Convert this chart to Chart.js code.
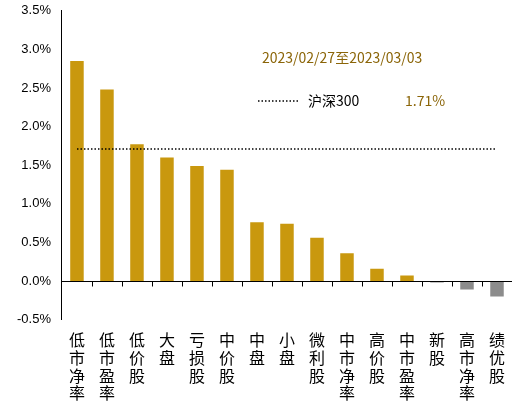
<!DOCTYPE html><html><head><meta charset="utf-8">
<script src="https://cdn.jsdelivr.net/npm/chart.js@4"></script>
<style>body{margin:0;background:#fff}#w{width:513px;height:406px}</style></head><body>
<div id="w"><canvas id="c"></canvas></div>
<script>
const categories=['低市净率','低市盈率','低价股','大盘','亏损股','中价股','中盘','小盘','微利股','中市净率','高价股','中市盈率','新股','高市净率','绩优股'];
const values=[2.85,2.48,1.77,1.60,1.49,1.44,0.76,0.74,0.56,0.36,0.16,0.07,-0.02,-0.11,-0.20];
const hs300=1.71;
const yTicks=[-0.5,0,0.5,1,1.5,2,2.5,3,3.5];
const gold='#C9980E', gray='#8C8C8C';
const F='"Noto Sans CJK SC","Liberation Sans",sans-serif';
const deco={id:'deco',afterDraw(ch){const c=ch.ctx,x=ch.scales.x,y=ch.scales.y,a=ch.chartArea;
 c.save();c.strokeStyle='#000';c.lineWidth=1;const y0=Math.round(y.getPixelForValue(0))+0.5;
 c.beginPath();c.moveTo(a.left,y0);c.lineTo(a.right,y0);
 for(let i=0;i<categories.length-1;i++){const px=Math.round((x.getPixelForValue(i)+x.getPixelForValue(i+1))/2)+0.5;c.moveTo(px,y0);c.lineTo(px,y0+5);}
 c.stroke();
 c.font='14px '+F;c.fillStyle='#8B6508';c.textBaseline='middle';
 c.fillText('2023/02/27至2023/03/03',262,58);
 c.setLineDash([1.5,2]);c.lineWidth=1.5;c.strokeStyle='#000';c.beginPath();c.moveTo(258,101);c.lineTo(300,101);c.stroke();c.setLineDash([]);
 c.fillStyle='#000';c.fillText('沪深300',308,101);
 c.fillStyle='#8B6508';c.fillText('1.71%',405,101);c.restore();}};
new Chart(document.getElementById('c'),{data:{labels:categories.map(s=>s.split('')),datasets:[
 {type:'bar',data:values,backgroundColor:values.map((v,i)=>i>=12?gray:gold),barPercentage:0.45,categoryPercentage:1,order:2},
 {type:'line',data:categories.map(()=>hs300),borderColor:'#000',borderWidth:1.5,borderDash:[1.5,2],pointRadius:0,order:1}]},
 options:{responsive:true,maintainAspectRatio:false,animation:false,layout:{padding:{top:4,right:1,left:14,bottom:0}},
 plugins:{legend:{display:false},tooltip:{enabled:false}},
 scales:{x:{grid:{display:false},border:{display:false},ticks:{color:'#000',font:{size:16,family:F,lineHeight:1.1},maxRotation:0,autoSkip:false,padding:4}},
 y:{min:-0.5,max:3.5,afterBuildTicks(s){s.ticks=yTicks.map(v=>({value:v}))},grid:{display:false},border:{display:true,color:'#000'},
 ticks:{color:'#000',font:{size:13,family:'"Liberation Sans",sans-serif'},callback:v=>v.toFixed(1)+'%'}}}},plugins:[deco]});
</script></body></html>
